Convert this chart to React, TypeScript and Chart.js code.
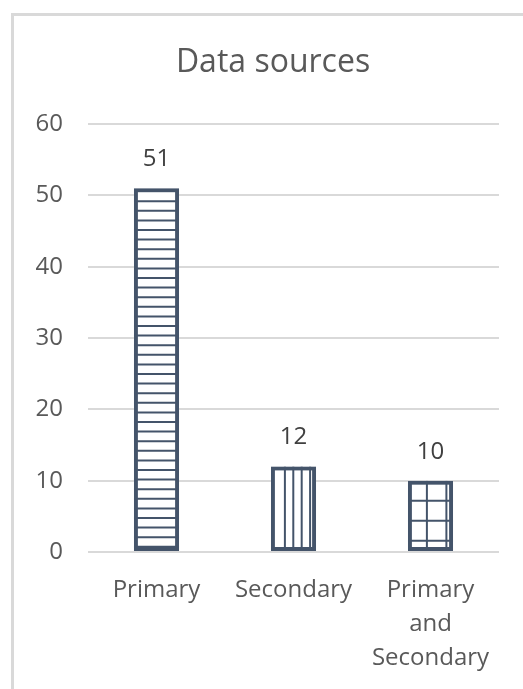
import { useEffect, useRef } from "react";
import { Chart, registerables } from "chart.js";

Chart.register(...registerables);

const categories: (string | string[])[] = ["Primary", "Secondary", ["Primary", "and", "Secondary"]];
const sourceCounts: number[] = [51, 12, 10];
const yTicks: number[] = [0, 10, 20, 30, 40, 50, 60];
const chartTitle = "Data sources";

const INK = "#44546a";
const TEXT = "#595959";
const GRID = "#d9d9d9";
const FONT = "'Open Sans', 'Noto Sans', sans-serif";

// hatch style per bar: horizontal stripes, vertical stripes, grid
const hatches = [
  { h: 9.6, v: 0, h0: 13, v0: 0 },
  { h: 0, v: 8.4, h0: 0, v0: 14 },
  { h: 20, v: 19.5, h0: 20, v0: 19 },
];

const hatchPlugin = {
  id: "hatch",
  afterDatasetsDraw(chart: any) {
    const ctx = chart.ctx;
    const meta = chart.getDatasetMeta(0);
    meta.data.forEach((el: any, i: number) => {
      const p = el.getProps(["x", "y", "base", "width"], true);
      const left = p.x - p.width / 2;
      const right = p.x + p.width / 2;
      const top = Math.min(p.y, p.base);
      const bottom = Math.max(p.y, p.base);
      const hs = hatches[i % hatches.length];
      ctx.save();
      ctx.beginPath();
      ctx.rect(left, top, right - left, bottom - top);
      ctx.clip();
      ctx.strokeStyle = INK;
      ctx.lineWidth = 2;
      ctx.beginPath();
      if (hs.h > 0) {
        for (let y = top + hs.h0; y < bottom; y += hs.h) {
          ctx.moveTo(left, y);
          ctx.lineTo(right, y);
        }
      }
      if (hs.v > 0) {
        for (let x = left + hs.v0; x < right; x += hs.v) {
          ctx.moveTo(x, top);
          ctx.lineTo(x, bottom);
        }
      }
      ctx.stroke();
      ctx.lineWidth = 4;
      ctx.strokeRect(left + 2, top + 2, right - left - 4, bottom - top - 4);
      ctx.restore();
    });
  },
};

const valueLabelPlugin = {
  id: "valueLabels",
  afterDatasetsDraw(chart: any) {
    const ctx = chart.ctx;
    const meta = chart.getDatasetMeta(0);
    const values = chart.data.datasets[0].data as number[];
    ctx.save();
    ctx.fillStyle = "#404040";
    ctx.font = `24px ${FONT}`;
    ctx.textAlign = "center";
    ctx.textBaseline = "middle";
    meta.data.forEach((el: any, i: number) => {
      ctx.fillText(String(values[i]), el.x, el.y - 29);
    });
    ctx.restore();
  },
};

const titlePlugin = {
  id: "sheetTitle",
  afterDraw(chart: any) {
    const ctx = chart.ctx;
    ctx.save();
    ctx.fillStyle = TEXT;
    ctx.font = `32px ${FONT}`;
    ctx.textAlign = "center";
    ctx.textBaseline = "middle";
    ctx.fillText(chartTitle, 273, 63);
    ctx.restore();
  },
};

export default function App() {
  const canvasRef = useRef<HTMLCanvasElement | null>(null);

  useEffect(() => {
    const canvas = canvasRef.current;
    if (!canvas) return;
    const chart = new Chart(canvas, {
      type: "bar",
      data: {
        labels: categories,
        datasets: [
          {
            data: sourceCounts,
            backgroundColor: "#ffffff",
            borderColor: INK,
            borderWidth: 0,
            categoryPercentage: 0.33,
            barPercentage: 1,
          },
        ],
      },
      options: {
        animation: false,
        responsive: false,
        maintainAspectRatio: false,
        layout: { padding: { left: 18, right: 24, top: 124, bottom: 0 } },
        plugins: {
          legend: { display: false },
          tooltip: { enabled: false },
          title: { display: false },
        },
        scales: {
          x: {
            grid: { display: false, drawTicks: false },
            border: { display: false },
            ticks: {
              color: TEXT,
              font: { family: FONT, size: 24, lineHeight: 1.42 },
              padding: 21,
              maxRotation: 0,
              autoSkip: false,
            },
            afterFit: (s: any) => {
              s.height = 137;
            },
          },
          y: {
            min: yTicks[0],
            max: yTicks[yTicks.length - 1],
            afterBuildTicks: (s: any) => {
              s.ticks = yTicks.map((v) => ({ value: v }));
            },
            grid: { color: GRID, lineWidth: 2, drawTicks: false },
            border: { display: false },
            ticks: {
              color: TEXT,
              font: { family: FONT, size: 24 },
              padding: 25,
            },
            afterFit: (s: any) => {
              s.width = 70;
            },
          },
        },
      },
      plugins: [hatchPlugin, valueLabelPlugin, titlePlugin],
    });
    return () => chart.destroy();
  }, []);

  return (
    <div
      style={{
        position: "fixed",
        left: 0,
        top: 0,
        width: 523,
        height: 689,
        overflow: "hidden",
        background: "#ffffff",
      }}
    >
      <div
        style={{
          position: "absolute",
          left: 11,
          top: 13,
          width: 700,
          height: 800,
          borderLeft: `3px solid ${GRID}`,
          borderTop: `3px solid ${GRID}`,
        }}
      />
      <canvas
        ref={canvasRef}
        width={523}
        height={689}
        style={{ position: "absolute", left: 0, top: 0, width: 523, height: 689 }}
      />
    </div>
  );
}
